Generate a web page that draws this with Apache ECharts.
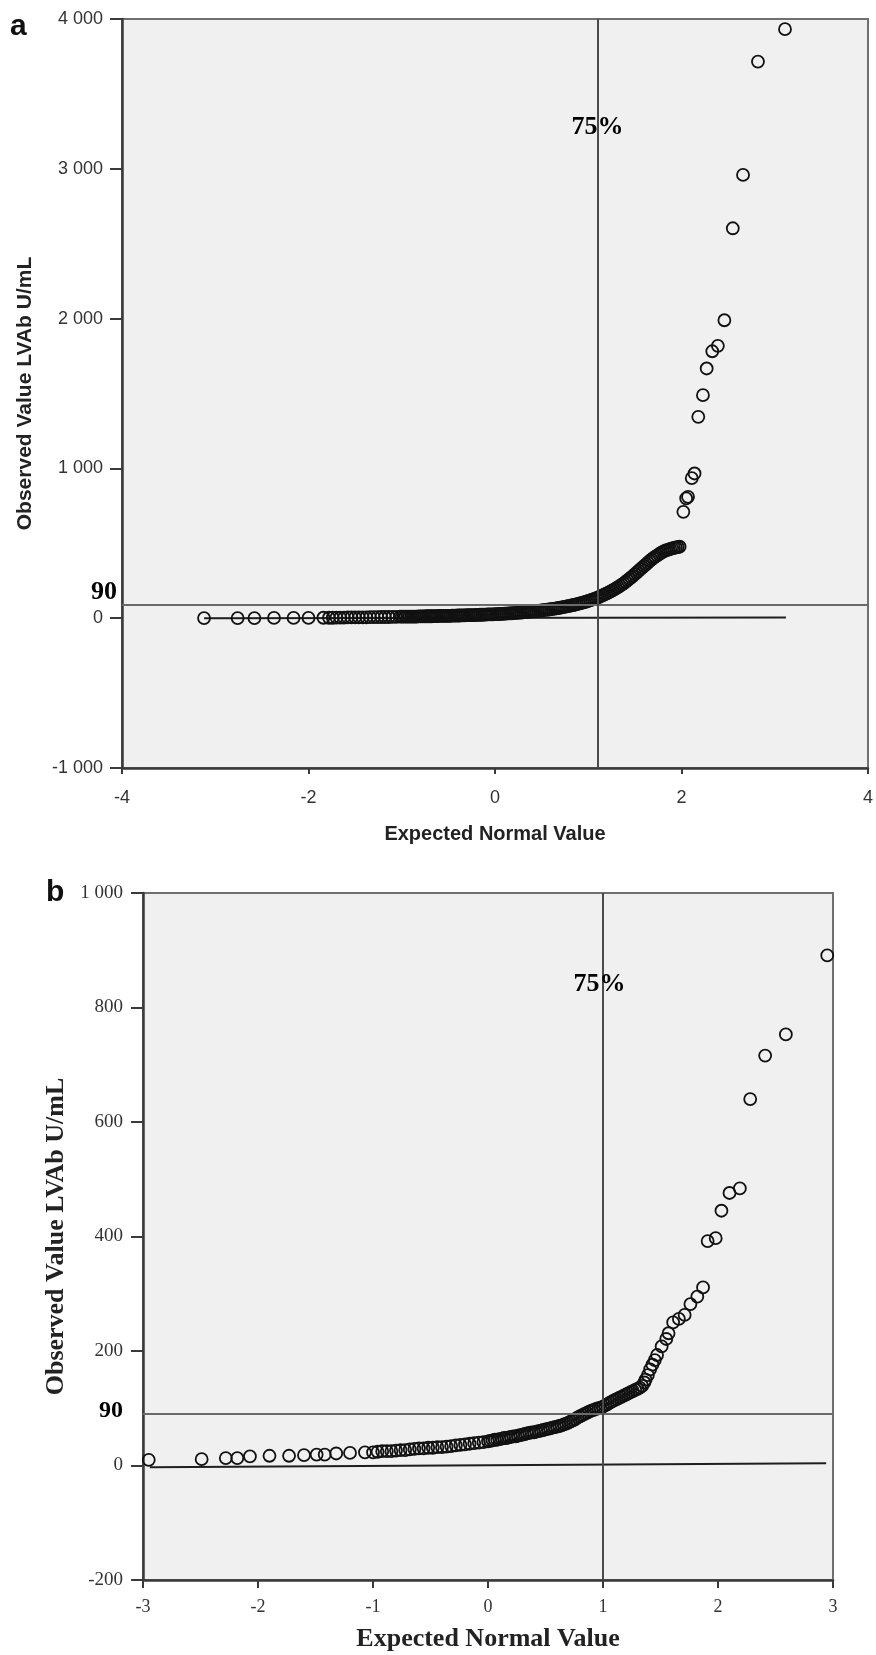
<!DOCTYPE html>
<html>
<head>
<meta charset="utf-8">
<script src="https://cdn.jsdelivr.net/npm/echarts@6/dist/echarts.min.js"></script>
<style>
html,body{margin:0;padding:0;background:#fff;}
#chart{width:876px;height:1655px;}
</style>
</head>
<body>
<div id="chart"></div>
<script>
// ---------- Panel a data (Q-Q plot) ----------
const aExpected = [-3.12,-2.76,-2.58,-2.37,-2.16,-2.00,-1.84,
 -1.78,-1.74,-1.70,-1.66,-1.62,-1.58,-1.54,-1.50,-1.46,-1.42,-1.38,-1.34,-1.30,-1.26,-1.22,-1.18,-1.14,-1.10,-1.06,-1.02,
 -1.00,-0.98,-0.96,-0.94,-0.92,-0.90,-0.88,-0.86,-0.84,-0.82,-0.80,-0.78,-0.76,-0.74,-0.72,-0.70,-0.68,-0.66,-0.64,-0.62,
 -0.60,-0.58,-0.56,-0.54,-0.52,-0.50,-0.48,-0.46,-0.44,-0.42,-0.40,-0.38,-0.36,-0.34,-0.32,-0.30,-0.28,-0.26,-0.24,-0.22,
 -0.20,-0.18,-0.16,-0.14,-0.12,-0.10,-0.08,-0.06,-0.04,-0.02,
 0.00,0.02,0.04,0.06,0.08,0.10,0.12,0.14,0.16,0.18,0.20,0.22,0.24,0.26,0.28,0.30,0.32,0.34,0.36,0.38,
 0.40,0.42,0.44,0.46,0.48,0.50,0.52,0.54,0.56,0.58,0.60,0.62,0.64,0.66,0.68,0.70,0.72,0.74,0.76,0.78,
 0.80,0.82,0.84,0.86,0.88,0.90,0.92,0.94,0.96,0.98,1.00,1.02,1.04,1.06,1.08,1.10,1.12,1.14,1.16,1.18,
 1.20,1.22,1.24,1.26,1.28,1.30,1.32,1.34,1.36,1.38,1.40,1.42,1.44,1.46,1.48,1.50,1.52,1.54,1.56,1.58,
 1.60,1.62,1.64,1.66,1.68,1.70,1.72,1.74,1.76,1.78,1.80,1.82,1.84,1.86,1.88,1.90,1.92,1.94,1.96,1.98,
 2.02,2.05,2.07,2.11,2.14,2.18,2.23,2.27,2.33,2.39,2.46,2.55,2.66,2.82,3.11];
const aObserved = [1,1,1,2,2,2,3,
 3,3,4,4,4,5,5,5,6,6,6,7,7,7,8,8,8,9,9,10,
 10,10,10,10,11,11,11,11,11,12,12,12,12,13,13,13,13,14,14,14,
 15,15,15,15,16,16,16,17,17,17,18,18,19,19,19,20,20,21,21,21,
 22,22,23,23,24,24,25,25,26,26,
 27,27,28,29,29,30,31,32,32,33,34,35,36,37,38,39,40,41,43,44,
 45,46,48,49,51,52,54,55,57,58,60,62,64,66,68,70,72,75,77,80,
 82,85,88,91,94,97,100,104,107,111,115,119,124,128,133,138,143,149,154,160,
 166,172,179,186,193,200,208,216,224,233,242,252,262,272,283,294,305,316,327,338,
 349,360,371,382,392,402,411,420,428,436,443,449,454,458,462,466,469,472,475,477,
 710,800,810,935,966,1344,1489,1667,1782,1818,1989,2603,2959,3716,3932];
const aRefLineX = [-3.12, 3.12];
const aRefLineY = [0, 5];
const aCutX = 1.1;       // 75% line
const aCutY = 90;        // 90 U/mL line
const aPctLabel = [1.1, 3275];
const aYTicks = {min: -1000, max: 4000, interval: 1000};
const aXTicks = {min: -4, max: 4, interval: 2};

// ---------- Panel b data ----------
const bExpected = [-2.95,-2.49,-2.28,-2.18,-2.07,-1.90,-1.73,-1.60,-1.49,-1.42,-1.32,-1.20,-1.07,
 -1.00,-0.96,-0.92,-0.88,-0.84,-0.80,-0.76,-0.72,-0.68,-0.64,-0.60,-0.56,-0.52,-0.48,-0.44,-0.40,-0.36,-0.32,-0.28,-0.24,-0.20,-0.16,-0.12,-0.08,-0.04,
 0.00,0.02,0.04,0.06,0.08,0.10,0.12,0.14,0.16,0.18,0.20,0.22,0.24,0.26,0.28,0.30,0.32,0.34,0.36,0.38,
 0.40,0.42,0.44,0.46,0.48,0.50,0.52,0.54,0.56,0.58,0.60,0.62,0.64,0.66,0.68,0.70,0.72,0.74,0.76,0.78,
 0.80,0.82,0.84,0.86,0.88,0.90,0.92,0.94,0.96,0.98,1.00,1.02,1.04,1.06,1.08,1.10,1.12,1.14,1.16,1.18,
 1.20,1.22,1.24,1.26,1.28,1.30,1.32,1.34,
 1.36,1.37,1.39,1.41,1.43,1.45,1.47,1.51,1.55,1.57,1.61,1.66,1.71,1.76,1.82,1.87,
 1.91,1.98,2.03,2.10,2.19,2.28,2.41,2.59,2.95];
const bObserved = [10,11,13,13,16,17,17,18,19,19,21,22,23,
 23,24,25,25,25,26,27,27,28,29,30,30,31,31,32,32,33,34,35,36,37,38,39,40,41,
 42,43,44,45,45,46,47,48,48,49,50,51,51,52,53,54,55,56,57,58,
 58,59,60,61,62,63,64,65,66,67,68,69,70,72,73,75,77,79,81,84,
 86,88,90,92,94,96,97,99,100,101,103,105,107,110,112,114,116,118,120,122,
 124,126,128,130,132,134,136,139,
 145,150,158,168,176,184,193,208,221,231,250,256,263,282,295,311,
 392,397,445,476,484,640,716,753,891];
const bRefLineX = [-2.94, 2.94];
const bRefLineY = [-3, 4];
const bCutX = 1.0;
const bCutY = 90;
const bPctLabel = [0.97, 840];
const bYTicks = {min: -200, max: 1000, interval: 200};
const bXTicks = {min: -3, max: 3, interval: 1};

const sans = '"Liberation Sans", Arial, sans-serif';
const serif = '"Liberation Serif", "Times New Roman", serif';
const pair = (xs, ys) => xs.map((x, i) => [x, ys[i]]);
const thousands = v => String(v).replace(/\B(?=(\d{3})+(?!\d))/g, ' ');

const chart = echarts.init(document.getElementById('chart'), null, {renderer: 'canvas'});

const circleStyle = {color: 'rgba(0,0,0,0)', borderColor: '#111', borderWidth: 1.8, opacity: 1};

function hLine(y) {
  return {yAxis: y, lineStyle: {color: '#6a6a6a', width: 2, type: 'solid'}, label: {show: false}};
}
function vLine(x) {
  return {xAxis: x, lineStyle: {color: '#4a4a4a', width: 2, type: 'solid'}, label: {show: false}};
}
function cutLabel(xIdx, point, dist, dy, size) {
  return {type: 'scatter', xAxisIndex: xIdx, yAxisIndex: xIdx, data: [point], symbolSize: 0, silent: true,
    clip: false, z: 6, itemStyle: {opacity: 1},
    label: {show: true, position: 'left', distance: dist, offset: [0, dy], formatter: String(point[1]),
            fontFamily: serif, fontWeight: 'bold', fontSize: size, color: '#000', opacity: 1}};
}
function pctLabel(xIdx, point) {
  return {type: 'scatter', xAxisIndex: xIdx, yAxisIndex: xIdx, data: [point], symbolSize: 0, silent: true, z: 6,
    itemStyle: {opacity: 1},
    label: {show: true, position: 'inside', formatter: '75%', fontFamily: serif, fontWeight: 'bold',
            fontSize: 26, color: '#000', opacity: 1, textBorderWidth: 0}};
}

const option = {
  animation: false,
  backgroundColor: '#ffffff',
  grid: [
    {left: 122, top: 19, width: 749, height: 749, show: true, backgroundColor: '#f0f0f0', borderColor: '#707070', borderWidth: 2},
    {left: 143, top: 893, width: 690, height: 687, show: true, backgroundColor: '#f0f0f0', borderColor: '#707070', borderWidth: 2}
  ],
  xAxis: [
    {gridIndex: 0, type: 'value', min: aXTicks.min, max: aXTicks.max, interval: aXTicks.interval,
     name: 'Expected Normal Value', nameLocation: 'middle', nameGap: 56,
     nameTextStyle: {fontFamily: sans, fontWeight: 'bold', fontSize: 20, color: '#222'},
     axisLine: {onZero: false, lineStyle: {color: '#3a3a3a', width: 2.5}},
     axisTick: {length: 6, lineStyle: {color: '#3a3a3a', width: 2}},
     axisLabel: {margin: 21, fontFamily: sans, fontSize: 18, color: '#333'},
     splitLine: {show: false}},
    {gridIndex: 1, type: 'value', min: bXTicks.min, max: bXTicks.max, interval: bXTicks.interval,
     name: 'Expected Normal Value', nameLocation: 'middle', nameGap: 46,
     nameTextStyle: {fontFamily: serif, fontWeight: 'bold', fontSize: 26, color: '#222'},
     axisLine: {onZero: false, lineStyle: {color: '#3a3a3a', width: 2.5}},
     axisTick: {length: 8, lineStyle: {color: '#3a3a3a', width: 2}},
     axisLabel: {margin: 18, fontFamily: serif, fontSize: 18, color: '#333'},
     splitLine: {show: false}}
  ],
  yAxis: [
    {gridIndex: 0, type: 'value', min: aYTicks.min, max: aYTicks.max, interval: aYTicks.interval,
     name: 'Observed Value LVAb U/mL', nameLocation: 'middle', nameGap: 86,
     nameTextStyle: {fontFamily: sans, fontWeight: 'bold', fontSize: 21, color: '#222'},
     axisLine: {onZero: false, lineStyle: {color: '#3a3a3a', width: 2.5}},
     axisTick: {length: 12, lineStyle: {color: '#3a3a3a', width: 2}},
     axisLabel: {margin: 19, fontFamily: sans, fontSize: 18, color: '#333', formatter: thousands},
     splitLine: {show: false}},
    {gridIndex: 1, type: 'value', min: bYTicks.min, max: bYTicks.max, interval: bYTicks.interval,
     name: 'Observed Value LVAb U/mL', nameLocation: 'middle', nameGap: 68,
     nameTextStyle: {fontFamily: serif, fontWeight: 'bold', fontSize: 26, color: '#222'},
     axisLine: {onZero: false, lineStyle: {color: '#3a3a3a', width: 2.5}},
     axisTick: {length: 12, lineStyle: {color: '#3a3a3a', width: 2}},
     axisLabel: {margin: 20, fontFamily: serif, fontSize: 19, color: '#333', formatter: thousands},
     splitLine: {show: false}}
  ],
  series: [
    {type: 'line', xAxisIndex: 0, yAxisIndex: 0, data: pair(aRefLineX, aRefLineY), symbol: 'none',
     lineStyle: {color: '#1e1e1e', width: 2}, silent: true, z: 3,
     markLine: {silent: true, symbol: ['none', 'none'], animation: false, data: [hLine(aCutY), vLine(aCutX)]}},
    {type: 'scatter', xAxisIndex: 0, yAxisIndex: 0, data: pair(aExpected, aObserved),
     symbol: 'circle', symbolSize: 12, itemStyle: circleStyle, z: 4},
    pctLabel(0, aPctLabel),
    cutLabel(0, [aXTicks.min, aCutY], 5, -12, 26),

    {type: 'line', xAxisIndex: 1, yAxisIndex: 1, data: pair(bRefLineX, bRefLineY), symbol: 'none',
     lineStyle: {color: '#1e1e1e', width: 2}, silent: true, z: 3,
     markLine: {silent: true, symbol: ['none', 'none'], animation: false, data: [hLine(bCutY), vLine(bCutX)]}},
    {type: 'scatter', xAxisIndex: 1, yAxisIndex: 1, data: pair(bExpected, bObserved),
     symbol: 'circle', symbolSize: 12, itemStyle: circleStyle, z: 4},
    pctLabel(1, bPctLabel),
    cutLabel(1, [bXTicks.min, bCutY], 20, -3, 24)
  ],
  graphic: [
    {type: 'text', left: 10, top: 12, style: {text: 'a', font: 'bold 30px ' + sans, fill: '#111'}},
    {type: 'text', left: 46, top: 878, style: {text: 'b', font: 'bold 30px ' + sans, fill: '#111'}}
  ]
};
chart.setOption(option);
</script>
</body>
</html>
